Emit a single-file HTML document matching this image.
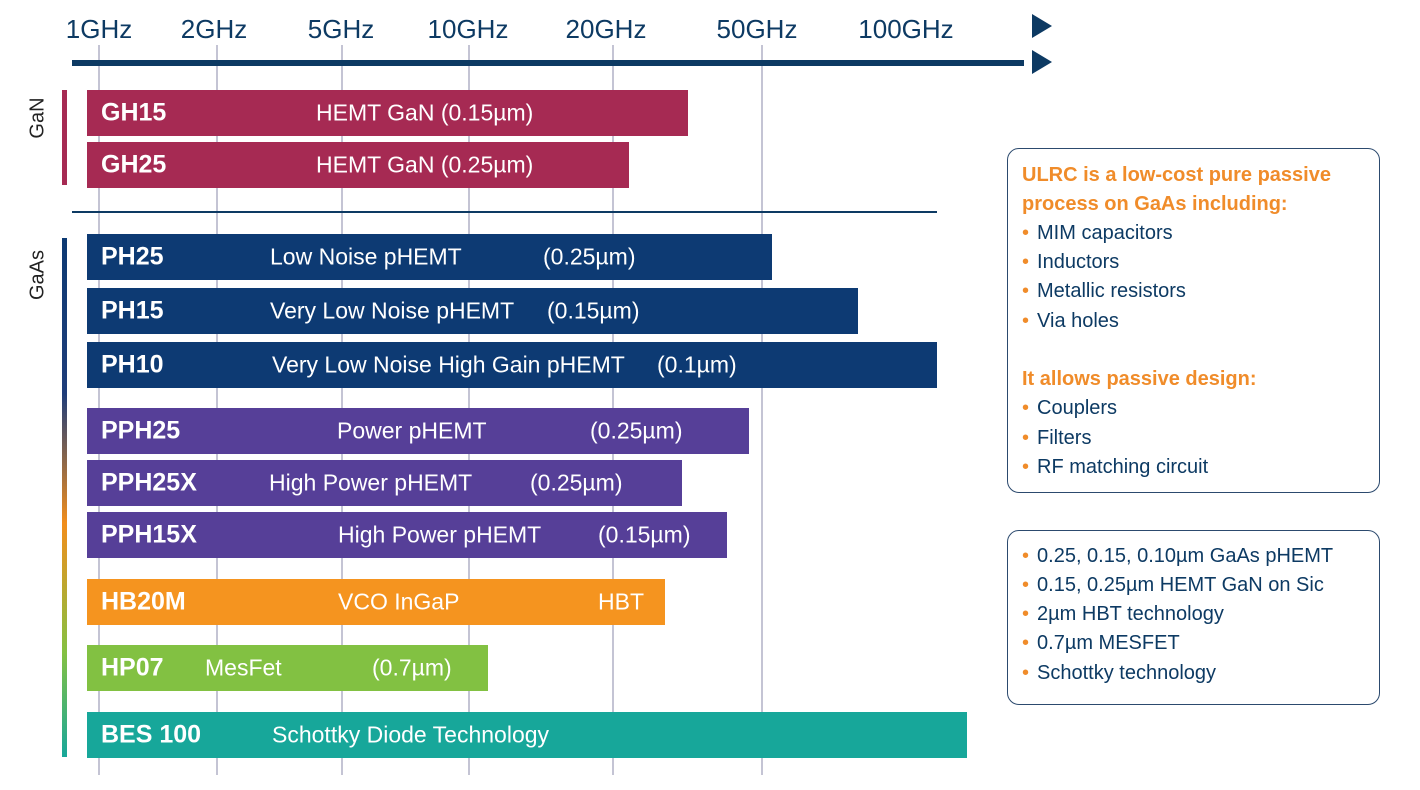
<!DOCTYPE html>
<html><head><meta charset="utf-8"><style>
body{margin:0;width:1420px;height:790px;background:#fff;position:relative;overflow:hidden;font-family:"Liberation Sans",sans-serif}
.a{position:absolute}
.g{position:absolute;width:2px;background:#c4c4d4;top:45px;height:730px}
.ax{position:absolute;top:14px;font-size:26px;color:#0d3a63;transform:translateX(-50%)}
.bar{position:absolute;left:87px;height:46px}
.bar span{position:absolute;top:50%;transform:translateY(-50%);color:#fff;font-size:23px;white-space:nowrap}
.bar b{position:absolute;left:14px;top:50%;transform:translateY(-50%);color:#fff;font-size:25px;font-weight:bold}
.box{position:absolute;left:1007px;width:371px;border:1.5px solid #2c4a6e;border-radius:12px}
.ln{position:absolute;left:1022px;font-size:20px;color:#0d3a63;white-space:nowrap}
.ln i{font-style:normal;color:#f08c2a;margin-right:8px}
.or{position:absolute;left:1022px;font-size:20px;color:#f08c2a;font-weight:bold;white-space:nowrap}
</style></head><body>
<div class="g" style="left:98px"></div><div class="g" style="left:216px"></div><div class="g" style="left:341px"></div><div class="g" style="left:468px"></div><div class="g" style="left:612px"></div><div class="g" style="left:761px"></div>
<div class="ax" style="left:99px">1GHz</div><div class="ax" style="left:214px">2GHz</div><div class="ax" style="left:341px">5GHz</div><div class="ax" style="left:468px">10GHz</div><div class="ax" style="left:606px">20GHz</div><div class="ax" style="left:757px">50GHz</div><div class="ax" style="left:906px">100GHz</div>
<div class="a" style="left:72px;top:60px;width:952px;height:6px;background:#0d3a63"></div>
<svg class="a" style="left:1030px;top:14px" width="24" height="62"><polygon points="2,0 22,12 2,24" fill="#0d3a63"/><polygon points="2,36 22,48 2,60" fill="#0d3a63"/></svg>
<div class="a" style="left:62px;top:90px;width:5px;height:95px;background:#a62a53"></div>
<div class="a" style="left:62px;top:238px;width:5px;height:519px;background:linear-gradient(#0d3a73 0%,#1f3d7a 30%,#f28e1c 55%,#84c142 80%,#17a79a 100%)"></div>
<div class="a" style="left:38px;top:118px;transform:translate(-50%,-50%) rotate(-90deg);font-size:20px;color:#222">GaN</div>
<div class="a" style="left:38px;top:275px;transform:translate(-50%,-50%) rotate(-90deg);font-size:20px;color:#222">GaAs</div>
<div class="a" style="left:72px;top:211px;width:865px;height:2px;background:#0d3a63"></div>
<div class="bar" style="top:90px;width:601px;background:#a62a53"><b>GH15</b><span style="left:229px">HEMT GaN (0.15µm)</span></div>
<div class="bar" style="top:142px;width:542px;background:#a62a53"><b>GH25</b><span style="left:229px">HEMT GaN (0.25µm)</span></div>
<div class="bar" style="top:234px;width:685px;background:#0d3a73"><b>PH25</b><span style="left:183px">Low Noise pHEMT</span><span style="left:456px">(0.25µm)</span></div>
<div class="bar" style="top:288px;width:771px;background:#0d3a73"><b>PH15</b><span style="left:183px">Very Low Noise pHEMT</span><span style="left:460px">(0.15µm)</span></div>
<div class="bar" style="top:342px;width:850px;background:#0d3a73"><b>PH10</b><span style="left:185px">Very Low Noise High Gain pHEMT</span><span style="left:570px">(0.1µm)</span></div>
<div class="bar" style="top:408px;width:662px;background:#563f98"><b>PPH25</b><span style="left:250px">Power pHEMT</span><span style="left:503px">(0.25µm)</span></div>
<div class="bar" style="top:460px;width:595px;background:#563f98"><b>PPH25X</b><span style="left:182px">High Power pHEMT</span><span style="left:443px">(0.25µm)</span></div>
<div class="bar" style="top:512px;width:640px;background:#563f98"><b>PPH15X</b><span style="left:251px">High Power pHEMT</span><span style="left:511px">(0.15µm)</span></div>
<div class="bar" style="top:579px;width:578px;background:#f5941f"><b>HB20M</b><span style="left:251px">VCO InGaP</span><span style="left:511px">HBT</span></div>
<div class="bar" style="top:645px;width:401px;background:#82c142"><b>HP07</b><span style="left:118px">MesFet</span><span style="left:285px">(0.7µm)</span></div>
<div class="bar" style="top:712px;width:880px;background:#17a79a"><b>BES 100</b><span style="left:185px">Schottky Diode Technology</span></div>
<div class="box" style="top:148px;height:343px"></div>
<div class="box" style="top:530px;height:173px"></div>
<div class="or" style="top:164px">ULRC is a low-cost pure passive</div>
<div class="or" style="top:193px">process on GaAs including:</div>
<div class="ln" style="top:222px"><i>•</i>MIM capacitors</div>
<div class="ln" style="top:251px"><i>•</i>Inductors</div>
<div class="ln" style="top:280px"><i>•</i>Metallic resistors</div>
<div class="ln" style="top:310px"><i>•</i>Via holes</div>
<div class="or" style="top:368px">It allows passive design:</div>
<div class="ln" style="top:397px"><i>•</i>Couplers</div>
<div class="ln" style="top:427px"><i>•</i>Filters</div>
<div class="ln" style="top:456px"><i>•</i>RF matching circuit</div>
<div class="ln" style="top:545px"><i>•</i>0.25, 0.15, 0.10µm GaAs pHEMT</div>
<div class="ln" style="top:574px"><i>•</i>0.15, 0.25µm HEMT GaN on Sic</div>
<div class="ln" style="top:603px"><i>•</i>2µm HBT technology</div>
<div class="ln" style="top:632px"><i>•</i>0.7µm MESFET</div>
<div class="ln" style="top:662px"><i>•</i>Schottky technology</div>
</body></html>
